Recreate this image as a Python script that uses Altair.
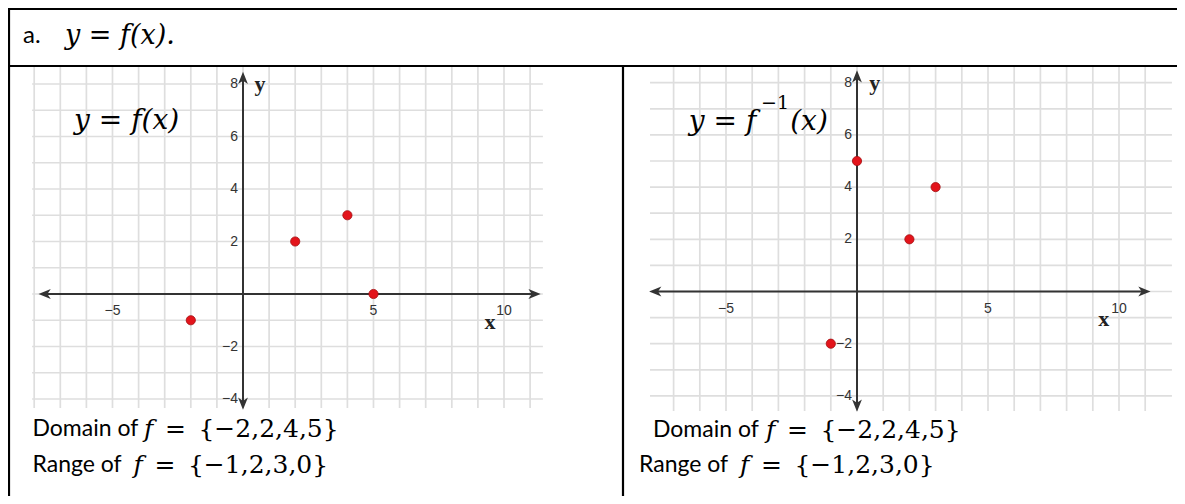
import altair as alt
import pandas as pd

W, H = 1169, 488

# ---------------- data ----------------
f_x = [-2, 2, 4, 5]
f_y = [-1, 2, 3, 0]
finv_x = [-1, 0, 2, 3]
finv_y = [-2, 5, 2, 4]

x_tick_values = [-5, 5, 10]
x_tick_text = ["−5", "5", "10"]
y_tick_values = [8, 6, 4, 2, -2, -4]
y_tick_text = ["8", "6", "4", "2", "−2", "−4"]

left_vlines = list(range(-8, 12))
left_hlines = list(range(-4, 9))
right_vlines = list(range(-7, 12))
right_hlines = list(range(-4, 9))

header_label = "a."
header_math = "y = f(x)."
left_title = "y = f(x)"
right_title = ["y = f", "−1", "(x)"]
domain_prefix = "Domain of"
range_prefix = "Range of"
func_name = "f"
domain_set = "=\u2002{−2,2,4,5}"
range_set = "=\u2002{−1,2,3,0}"

SANS = "Lato"
MATH = "DejaVu Serif"
TICK = "Liberation Sans"
GRID = "#dedede"
AXC = "#333333"
ARROW = "M1,0 L-1,-0.8 L-0.45,0 L-1,0.8 Z"


def df(**cols):
    return pd.DataFrame(cols)


def panel(P, pts_x, pts_y):
    ox, oy, ux, uy = P["ox"], P["oy"], P["ux"], P["uy"]
    xs = alt.Scale(domain=[-ox / ux, (W - ox) / ux], nice=False, zero=False)
    ys = alt.Scale(domain=[-(H - oy) / uy, oy / uy], nice=False, zero=False)

    def X(f):
        return alt.X(f, scale=xs, axis=None)

    def Y(f):
        return alt.Y(f, scale=ys, axis=None)

    gx0, gx1 = P["gridx"]
    gy0, gy1 = P["gridy"]
    ax0, ax1 = P["axx"]
    ay0, ay1 = P["axy"]
    L = []
    L.append(alt.Chart(df(v=P["vl"], a=gy0, b=gy1)).mark_rule(color=GRID, strokeWidth=1.7)
             .encode(x=X("v:Q"), y=Y("a:Q"), y2="b:Q"))
    L.append(alt.Chart(df(v=P["hl"], a=gx0, b=gx1)).mark_rule(color=GRID, strokeWidth=1.7)
             .encode(y=Y("v:Q"), x=X("a:Q"), x2="b:Q"))
    # axes
    L.append(alt.Chart(df(a=[ax0], b=[ax1], y=[0])).mark_rule(color=AXC, strokeWidth=2)
             .encode(x=X("a:Q"), x2="b:Q", y=Y("y:Q")))
    L.append(alt.Chart(df(a=[ay0], b=[ay1], x=[0])).mark_rule(color=AXC, strokeWidth=2)
             .encode(y=Y("a:Q"), y2="b:Q", x=X("x:Q")))
    L.append(alt.Chart(df(x=[ax0, ax1, 0, 0], y=[0, 0, ay1, ay0], a=[180, 0, 270, 90]))
             .mark_point(shape=ARROW, filled=True, size=150, color=AXC, opacity=1)
             .encode(x=X("x:Q"), y=Y("y:Q"), angle=alt.Angle("a:Q", scale=None)))
    # tick labels
    L.append(alt.Chart(df(x=x_tick_values, y=0, t=x_tick_text))
             .mark_text(dy=17, font=TICK, fontSize=14, color=AXC)
             .encode(x=X("x:Q"), y=Y("y:Q"), text="t:N"))
    L.append(alt.Chart(df(x=0, y=y_tick_values, t=y_tick_text))
             .mark_text(align="right", dx=-5, font=TICK, fontSize=14, color=AXC)
             .encode(x=X("x:Q"), y=Y("y:Q"), text="t:N"))
    # axis letters
    L.append(alt.Chart(df(x=[P["xlab"][0], P["ylab"][0]], y=[P["xlab"][1], P["ylab"][1]], t=["x", "y"]))
             .mark_text(font="Liberation Serif", fontWeight="bold", fontSize=22, color="#222")
             .encode(x=X("x:Q"), y=Y("y:Q"), text="t:N"))
    # title pieces
    for (t, tx, ty, fs, al, st) in P["title"]:
        L.append(alt.Chart(df(x=[tx], y=[ty], t=[t]))
                 .mark_text(font=MATH, fontStyle=st, fontSize=fs, align=al, color="black")
                 .encode(x=X("x:Q"), y=Y("y:Q"), text="t:N"))
    # points
    L.append(alt.Chart(df(x=pts_x, y=pts_y)).mark_circle(size=85, color="#e3141b", opacity=1,
                                                           stroke="#a30f12", strokeWidth=0.8)
             .encode(x=X("x:Q"), y=Y("y:Q")))
    return L


left = dict(ox=235, oy=286, ux=26.1, uy=26.25, vl=left_vlines, hl=left_hlines,
            gridx=(-8.08, 11.49), gridy=(-4.34, 8.65), axx=(-7.6, 11.17), axy=(-4.18, 8.23),
            xlab=(9.46, -1.07), ylab=(0.65, 8.01),
            title=[(left_title, -4.46, 6.59, 28, "center", "italic")])
right = dict(ox=849, oy=283.5, ux=26.2, uy=26.1, vl=right_vlines, hl=right_hlines,
             gridx=(-7.9, 12.02), gridy=(-4.58, 8.6), axx=(-7.7, 10.97), axy=(-4.37, 8.24),
             xlab=(9.42, -1.05), ylab=(0.68, 8.0),
             title=[(right_title[0], -6.42, 6.49, 28, "left", "italic"),
                    (right_title[1], -3.66, 7.22, 19, "left", "normal"),
                    (right_title[2], -2.55, 6.49, 28, "left", "italic")])

layers = []
dummy = df(_=[0])
# table borders
for enc in [dict(x=alt.value(0), x2=alt.value(W), y=alt.value(1)),
            dict(y=alt.value(0), y2=alt.value(H), x=alt.value(1)),
            dict(x=alt.value(0), x2=alt.value(W), y=alt.value(58)),
            dict(y=alt.value(58), y2=alt.value(H), x=alt.value(615))]:
    layers.append(alt.Chart(dummy).mark_rule(color="black", strokeWidth=2.2).encode(**enc))

layers += panel(left, f_x, f_y)
layers += panel(right, finv_x, finv_y)


def txt(t, x, y, font, size, style="normal"):
    return (alt.Chart(df(t=[t])).mark_text(align="left", baseline="middle", font=font,
                                           fontSize=size, fontStyle=style, color="black")
            .encode(text="t:N", x=alt.value(x), y=alt.value(y)))


layers.append(txt(header_label, 15, 28, SANS, 24))
layers.append(txt(header_math, 57, 28, MATH, 27, "italic"))

for (x0, xf, xe, yy, pre, st) in [(24.5, 136, 157, 421, domain_prefix, domain_set),
                                  (24.5, 125.5, 146.5, 457, range_prefix, range_set),
                                  (645, 758, 779, 422, domain_prefix, domain_set),
                                  (631, 732, 753, 457, range_prefix, range_set)]:
    layers.append(txt(pre, x0, yy, SANS, 23))
    layers.append(txt(func_name, xf, yy, MATH, 25, "italic"))
    layers.append(txt(st, xe, yy, MATH, 25))

chart = (alt.layer(*layers)
         .resolve_scale(x="independent", y="independent")
         .properties(width=W, height=H, padding=0, autosize="none", background="white")
         .configure_view(stroke=None))

chart.save("out.html", embed_options={"renderer": "svg", "actions": False})
